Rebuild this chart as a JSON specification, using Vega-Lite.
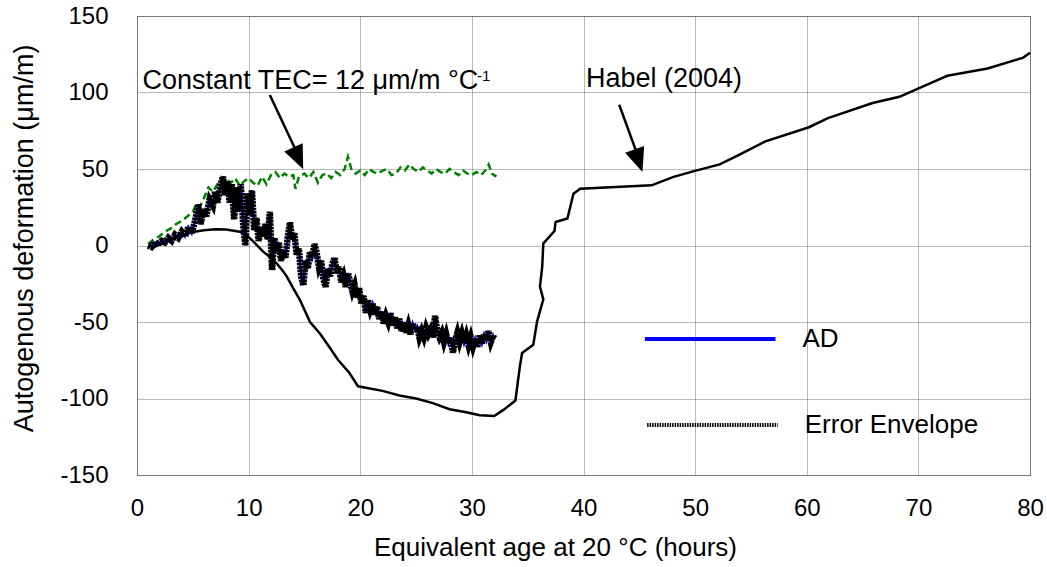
{
  "$schema": "https://vega.github.io/schema/vega-lite/v6.json",
  "autosize": "none",
  "width": 893,
  "height": 459,
  "padding": {"left": 137, "top": 16, "right": 17, "bottom": 92},
  "background": "white",
  "config": {
    "view": {"stroke": "#808080", "strokeWidth": 1},
    "axis": {
      "labelFont": "Liberation Sans",
      "labelFontSize": 24,
      "labelColor": "black",
      "labelFlush": false,
      "labelExpr": "replace(datum.label, '−', '-')",
      "titleFont": "Liberation Sans",
      "titleFontWeight": "normal",
      "titleColor": "black",
      "grid": true,
      "gridColor": "#707070",
      "gridDash": [1, 1],
      "gridWidth": 1,
      "gridOpacity": 1,
      "domain": false,
      "ticks": false,
      "tickSize": 0
    },
    "text": {"font": "Liberation Sans", "color": "black"}
  },
  "datasets": {
    "habel": [
      {"x": 1.3, "y": -1.9}, {"x": 2.0, "y": 0.5}, {"x": 3.0, "y": 3.5}, {"x": 4.0, "y": 6.5}, {"x": 5.0, "y": 8.8},
      {"x": 6.0, "y": 10.0}, {"x": 7.0, "y": 10.6}, {"x": 8.0, "y": 10.4}, {"x": 9.2, "y": 9.0}, {"x": 9.8, "y": 6.9},
      {"x": 10.5, "y": 2.0}, {"x": 11.3, "y": -4.0}, {"x": 12.0, "y": -8.0}, {"x": 12.5, "y": -11.6}, {"x": 13.0, "y": -16.0},
      {"x": 13.4, "y": -20.0}, {"x": 14.0, "y": -28.0}, {"x": 14.6, "y": -35.6}, {"x": 15.5, "y": -50.0}, {"x": 16.4, "y": -57.7},
      {"x": 17.2, "y": -66.0}, {"x": 18.0, "y": -74.7}, {"x": 19.0, "y": -83.0}, {"x": 19.8, "y": -92.0}, {"x": 20.5, "y": -93.0},
      {"x": 22.0, "y": -95.0}, {"x": 23.5, "y": -98.0}, {"x": 25.0, "y": -100.0}, {"x": 26.5, "y": -103.0}, {"x": 28.0, "y": -107.0},
      {"x": 29.5, "y": -109.0}, {"x": 30.7, "y": -111.0}, {"x": 32.0, "y": -111.5}, {"x": 32.8, "y": -107.6}, {"x": 33.9, "y": -101.3},
      {"x": 34.3, "y": -79.0}, {"x": 34.5, "y": -70.3}, {"x": 35.5, "y": -64.9}, {"x": 35.84, "y": -49.7}, {"x": 36.4, "y": -35.2},
      {"x": 36.1, "y": -26.9}, {"x": 36.3, "y": -13.9}, {"x": 36.4, "y": 1.3}, {"x": 37.4, "y": 9.5}, {"x": 37.5, "y": 15.4},
      {"x": 38.56, "y": 17.6}, {"x": 39.1, "y": 33.9}, {"x": 39.7, "y": 37.1}, {"x": 46.1, "y": 39.3}, {"x": 48.0, "y": 44.7},
      {"x": 49.9, "y": 48.6}, {"x": 52.2, "y": 53.0}, {"x": 53.8, "y": 58.8}, {"x": 56.3, "y": 68.1}, {"x": 60.2, "y": 77.3},
      {"x": 61.9, "y": 83.3}, {"x": 65.9, "y": 93.1}, {"x": 68.3, "y": 97.2}, {"x": 71.7, "y": 108.1}, {"x": 72.6, "y": 110.9},
      {"x": 76.2, "y": 115.7}, {"x": 79.4, "y": 122.8}, {"x": 80.0, "y": 126.0}
    ],
    "tec": [
      {"x": 1.0, "y": 1}, {"x": 1.5, "y": 4}, {"x": 2.0, "y": 6}, {"x": 2.5, "y": 9}, {"x": 3.0, "y": 11}, {"x": 3.5, "y": 14},
      {"x": 4.0, "y": 16}, {"x": 4.5, "y": 19}, {"x": 5.0, "y": 22}, {"x": 5.3, "y": 27}, {"x": 5.6, "y": 25}, {"x": 6.0, "y": 31},
      {"x": 6.4, "y": 38}, {"x": 6.8, "y": 35}, {"x": 7.2, "y": 40}, {"x": 7.6, "y": 38}, {"x": 8.0, "y": 43}, {"x": 8.4, "y": 41},
      {"x": 8.8, "y": 44}, {"x": 9.2, "y": 39}, {"x": 9.6, "y": 42}, {"x": 10.0, "y": 44}, {"x": 10.4, "y": 41}, {"x": 10.8, "y": 39},
      {"x": 11.2, "y": 45}, {"x": 11.6, "y": 40}, {"x": 12.0, "y": 46}, {"x": 12.4, "y": 48}, {"x": 12.8, "y": 44}, {"x": 13.2, "y": 47},
      {"x": 13.6, "y": 45}, {"x": 14.0, "y": 46}, {"x": 14.2, "y": 37}, {"x": 14.5, "y": 45}, {"x": 15.0, "y": 47}, {"x": 15.4, "y": 44},
      {"x": 15.8, "y": 48}, {"x": 16.2, "y": 41}, {"x": 16.6, "y": 46}, {"x": 17.0, "y": 47}, {"x": 17.4, "y": 44}, {"x": 17.8, "y": 48},
      {"x": 18.2, "y": 46}, {"x": 18.6, "y": 50}, {"x": 18.9, "y": 58}, {"x": 19.2, "y": 50}, {"x": 19.6, "y": 47}, {"x": 20.0, "y": 49},
      {"x": 20.4, "y": 46}, {"x": 20.8, "y": 50}, {"x": 21.2, "y": 48}, {"x": 21.6, "y": 47}, {"x": 22.0, "y": 49}, {"x": 22.4, "y": 50},
      {"x": 22.8, "y": 46}, {"x": 23.2, "y": 47}, {"x": 23.6, "y": 51}, {"x": 24.0, "y": 49}, {"x": 24.4, "y": 53}, {"x": 24.8, "y": 50},
      {"x": 25.2, "y": 48}, {"x": 25.6, "y": 51}, {"x": 26.0, "y": 49}, {"x": 26.4, "y": 47}, {"x": 26.8, "y": 50}, {"x": 27.2, "y": 48},
      {"x": 27.6, "y": 47}, {"x": 28.0, "y": 50}, {"x": 28.4, "y": 48}, {"x": 28.8, "y": 46}, {"x": 29.2, "y": 49}, {"x": 29.6, "y": 47},
      {"x": 30.0, "y": 46}, {"x": 30.4, "y": 48}, {"x": 30.8, "y": 46}, {"x": 31.2, "y": 49}, {"x": 31.5, "y": 53}, {"x": 31.8, "y": 47},
      {"x": 32.2, "y": 45}
    ],
    "ad": [
      {"x": 1.0, "y": 0}, {"x": 1.3, "y": -1}, {"x": 1.6, "y": 2}, {"x": 1.9, "y": 1}, {"x": 2.2, "y": 3}, {"x": 2.5, "y": 2},
      {"x": 2.8, "y": 5}, {"x": 3.1, "y": 3}, {"x": 3.4, "y": 7}, {"x": 3.7, "y": 5}, {"x": 4.0, "y": 9}, {"x": 4.3, "y": 6},
      {"x": 4.6, "y": 12}, {"x": 4.9, "y": 8}, {"x": 5.2, "y": 16}, {"x": 5.5, "y": 27}, {"x": 5.7, "y": 14}, {"x": 6.0, "y": 24},
      {"x": 6.2, "y": 19}, {"x": 6.5, "y": 30}, {"x": 6.8, "y": 26}, {"x": 7.0, "y": 35}, {"x": 7.2, "y": 28}, {"x": 7.5, "y": 40},
      {"x": 7.7, "y": 45}, {"x": 7.9, "y": 33}, {"x": 8.1, "y": 42}, {"x": 8.3, "y": 28}, {"x": 8.5, "y": 40}, {"x": 8.7, "y": 17},
      {"x": 8.9, "y": 38}, {"x": 9.1, "y": 22}, {"x": 9.3, "y": 40}, {"x": 9.5, "y": 15}, {"x": 9.7, "y": 0}, {"x": 9.9, "y": 34},
      {"x": 10.1, "y": 20}, {"x": 10.3, "y": 36}, {"x": 10.5, "y": 10}, {"x": 10.7, "y": 18}, {"x": 10.9, "y": 3}, {"x": 11.1, "y": 12},
      {"x": 11.3, "y": 6}, {"x": 11.5, "y": 14}, {"x": 11.7, "y": 4}, {"x": 11.9, "y": 22}, {"x": 12.1, "y": -16}, {"x": 12.3, "y": 5},
      {"x": 12.5, "y": -4}, {"x": 12.7, "y": 2}, {"x": 12.9, "y": -10}, {"x": 13.1, "y": -3}, {"x": 13.3, "y": -8}, {"x": 13.5, "y": 5},
      {"x": 13.7, "y": 15}, {"x": 13.9, "y": 4}, {"x": 14.1, "y": 8}, {"x": 14.3, "y": -6}, {"x": 14.5, "y": -2}, {"x": 14.7, "y": -20},
      {"x": 14.9, "y": -26}, {"x": 15.1, "y": -10}, {"x": 15.3, "y": -15}, {"x": 15.5, "y": -4}, {"x": 15.7, "y": -8}, {"x": 15.9, "y": 1},
      {"x": 16.1, "y": -5}, {"x": 16.3, "y": -14}, {"x": 16.5, "y": -10}, {"x": 16.7, "y": -22}, {"x": 16.9, "y": -27}, {"x": 17.1, "y": -15},
      {"x": 17.3, "y": -20}, {"x": 17.5, "y": -12}, {"x": 17.7, "y": -8}, {"x": 17.9, "y": -18}, {"x": 18.1, "y": -14}, {"x": 18.3, "y": -24},
      {"x": 18.5, "y": -20}, {"x": 18.7, "y": -27}, {"x": 18.9, "y": -18}, {"x": 19.1, "y": -24}, {"x": 19.3, "y": -30}, {"x": 19.5, "y": -26},
      {"x": 19.7, "y": -34}, {"x": 19.9, "y": -28}, {"x": 20.1, "y": -38}, {"x": 20.3, "y": -33}, {"x": 20.5, "y": -44}, {"x": 20.7, "y": -36},
      {"x": 20.9, "y": -42}, {"x": 21.1, "y": -38}, {"x": 21.3, "y": -45}, {"x": 21.5, "y": -40}, {"x": 21.7, "y": -48}, {"x": 21.9, "y": -43},
      {"x": 22.1, "y": -51}, {"x": 22.3, "y": -46}, {"x": 22.5, "y": -50}, {"x": 22.7, "y": -44}, {"x": 22.9, "y": -52}, {"x": 23.1, "y": -47},
      {"x": 23.3, "y": -54}, {"x": 23.5, "y": -48}, {"x": 23.7, "y": -56}, {"x": 23.9, "y": -50}, {"x": 24.1, "y": -57}, {"x": 24.3, "y": -52},
      {"x": 24.5, "y": -58}, {"x": 24.7, "y": -51}, {"x": 24.9, "y": -55}, {"x": 25.1, "y": -53}, {"x": 25.3, "y": -60}, {"x": 25.5, "y": -56},
      {"x": 25.7, "y": -60}, {"x": 25.9, "y": -54}, {"x": 26.1, "y": -58}, {"x": 26.3, "y": -55}, {"x": 26.5, "y": -60}, {"x": 26.7, "y": -46},
      {"x": 26.9, "y": -56}, {"x": 27.1, "y": -60}, {"x": 27.3, "y": -57}, {"x": 27.5, "y": -63}, {"x": 27.7, "y": -58}, {"x": 27.9, "y": -64},
      {"x": 28.1, "y": -60}, {"x": 28.3, "y": -70}, {"x": 28.5, "y": -62}, {"x": 28.7, "y": -57}, {"x": 28.9, "y": -63}, {"x": 29.1, "y": -58},
      {"x": 29.3, "y": -64}, {"x": 29.5, "y": -59}, {"x": 29.7, "y": -65}, {"x": 29.9, "y": -60}, {"x": 30.1, "y": -66}, {"x": 30.3, "y": -61},
      {"x": 30.5, "y": -66}, {"x": 30.7, "y": -59}, {"x": 30.9, "y": -64}, {"x": 31.1, "y": -58}, {"x": 31.3, "y": -62}, {"x": 31.5, "y": -56},
      {"x": 31.7, "y": -63}, {"x": 31.9, "y": -59}, {"x": 32.0, "y": -61}
    ],
    "notes": [
      {"x": 0.5, "y": 102.3, "label": "Constant TEC= 12 μm/m °C", "kind": "main"},
      {"x": 30.45, "y": 107.8, "label": "-1", "kind": "sup"},
      {"x": 40.22, "y": 103.6, "label": "Habel (2004)", "kind": "main"}
    ],
    "arrows": [
      {"x": 11.9, "y": 98.4, "x2": 14.5, "y2": 58, "tipx": 14.89, "tipy": 49.8, "target": "TEC"},
      {"x": 43.2, "y": 92.0, "x2": 45.0, "y2": 56, "tipx": 45.28, "tipy": 48.0, "target": "Habel"}
    ],
    "legendrows": [
      {"x": 45.5, "x2": 57.2, "y": -61.1, "series": "AD"},
      {"x": 45.7, "x2": 57.4, "y": -117.3, "series": "Error Envelope"}
    ]
  },
  "encoding": {
    "x": {
      "field": "x", "type": "quantitative",
      "scale": {"domain": [0, 80], "nice": false, "zero": false},
      "axis": {
        "values": [0, 10, 20, 30, 40, 50, 60, 70, 80],
        "labelPadding": 21,
        "title": "Equivalent age at 20 °C (hours)",
        "titleFontSize": 26,
        "titleX": 418, "titleY": 80, "titleAlign": "center", "titleBaseline": "alphabetic"
      }
    },
    "y": {
      "field": "y", "type": "quantitative",
      "scale": {"domain": [-150, 150], "nice": false, "zero": false},
      "axis": {
        "values": [-150, -100, -50, 0, 50, 100, 150],
        "labelPadding": 29,
        "title": "Autogenous deformation (μm/m)",
        "titleFontSize": 27,
        "titleX": -105, "titleY": 222, "titleAlign": "center", "titleBaseline": "alphabetic", "titleAngle": -90
      }
    }
  },
  "layer": [
    {
      "data": {"name": "tec"},
      "mark": {"type": "line", "color": "#008000", "strokeWidth": 2.5, "strokeDash": [7, 4]},
      "encoding": {"order": {"value": null}}
    },
    {
      "data": {"name": "habel"},
      "mark": {"type": "line", "color": "black", "strokeWidth": 2.5},
      "encoding": {"order": {"value": null}}
    },
    {
      "data": {"name": "ad"},
      "mark": {"type": "line", "color": "#0000FF", "strokeWidth": 2.5},
      "encoding": {"order": {"value": null}}
    },
    {
      "data": {"name": "ad"},
      "mark": {"type": "line", "color": "black", "strokeWidth": 6.5, "strokeDash": [2.5, 0.8]},
      "encoding": {"order": {"value": null}}
    },
    {
      "data": {"name": "arrows"},
      "mark": {"type": "rule", "color": "black", "strokeWidth": 2.5},
      "encoding": {"x2": {"field": "x2"}, "y2": {"field": "y2"}}
    },
    {
      "data": {"name": "arrows"},
      "transform": [{"filter": "datum.target === 'TEC'"}],
      "mark": {"type": "point", "shape": "M0,0L-0.42,-1L0.42,-1Z", "filled": true, "color": "black", "opacity": 1, "size": 2300, "angle": 336, "strokeWidth": 0},
      "encoding": {"x": {"field": "tipx", "type": "quantitative"}, "y": {"field": "tipy", "type": "quantitative"}}
    },
    {
      "data": {"name": "arrows"},
      "transform": [{"filter": "datum.target === 'Habel'"}],
      "mark": {"type": "point", "shape": "M0,0L-0.42,-1L0.42,-1Z", "filled": true, "color": "black", "opacity": 1, "size": 2300, "angle": 341, "strokeWidth": 0},
      "encoding": {"x": {"field": "tipx", "type": "quantitative"}, "y": {"field": "tipy", "type": "quantitative"}}
    },
    {
      "data": {"name": "notes"},
      "transform": [{"filter": "datum.kind === 'main'"}],
      "mark": {"type": "text", "fontSize": 27, "align": "left", "baseline": "alphabetic"},
      "encoding": {"text": {"field": "label"}}
    },
    {
      "data": {"name": "notes"},
      "transform": [{"filter": "datum.kind === 'sup'"}],
      "mark": {"type": "text", "fontSize": 15, "align": "left", "baseline": "alphabetic"},
      "encoding": {"text": {"field": "label"}}
    },
    {
      "data": {"name": "legendrows"},
      "transform": [{"filter": "datum.series === 'AD'"}],
      "mark": {"type": "rule", "color": "#0000FF", "strokeWidth": 4},
      "encoding": {"x2": {"field": "x2"}}
    },
    {
      "data": {"name": "legendrows"},
      "transform": [{"filter": "datum.series === 'Error Envelope'"}],
      "mark": {"type": "rule", "color": "black", "strokeWidth": 4, "strokeDash": [1.5, 1]},
      "encoding": {"x2": {"field": "x2"}}
    },
    {
      "data": {"name": "legendrows"},
      "mark": {"type": "text", "fontSize": 26, "align": "left", "baseline": "middle", "dx": 27},
      "encoding": {"x": {"field": "x2", "type": "quantitative"}, "text": {"field": "series"}}
    }
  ]
}
